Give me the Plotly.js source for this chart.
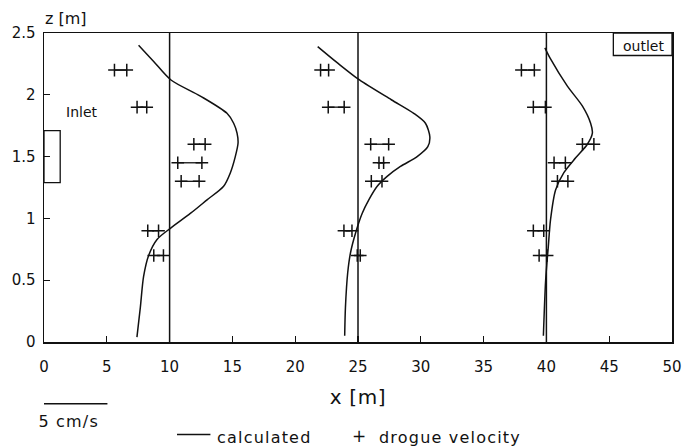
<!DOCTYPE html>
<html>
<head>
<meta charset="utf-8">
<script src="https://cdn.plot.ly/plotly-3.0.1.min.js"></script>
<style>
html,body{margin:0;padding:0;background:#fff;}
#chart{width:685px;height:448px;}
#chart .annotation-text.wide{letter-spacing:1.2px;}
#chart .xtitle{letter-spacing:0.6px;}
</style>
</head>
<body>
<div id="chart"></div>
<script>
// Stations (zero-velocity baselines), x [m]
const stations = [10, 25, 40];

// Calculated profiles (x position = baseline + velocity scaled), z [m]
const calc1X = [7.40, 7.67, 7.93, 8.33, 9.00, 10.06, 11.65, 12.98, 14.30, 14.84, 15.23, 15.45, 15.37, 15.10, 14.57, 12.45, 10.11, 8.73, 7.53];
const calc1Z = [0.04, 0.28, 0.53, 0.70, 0.83, 0.92, 1.04, 1.15, 1.26, 1.37, 1.50, 1.61, 1.69, 1.77, 1.85, 1.99, 2.12, 2.27, 2.40];
const calc2X = [23.94, 24.00, 24.18, 24.40, 24.80, 25.33, 25.86, 26.53, 27.32, 28.38, 29.71, 30.56, 30.72, 30.37, 29.44, 27.65, 25.12, 23.34, 21.79];
const calc2Z = [0.05, 0.28, 0.56, 0.72, 0.88, 1.04, 1.15, 1.26, 1.34, 1.42, 1.50, 1.58, 1.66, 1.77, 1.85, 1.96, 2.12, 2.26, 2.39];
const calc3X = [39.76, 39.94, 40.15, 40.33, 40.73, 41.39, 42.33, 43.26, 43.66, 43.52, 42.86, 41.67, 40.33, 39.88];
const calc3Z = [0.05, 0.50, 0.77, 0.99, 1.23, 1.37, 1.49, 1.60, 1.69, 1.77, 1.91, 2.07, 2.29, 2.38];

// Drogue velocities: depth levels and min/max ends at each station
const drogueZ = [2.2, 1.9, 1.6, 1.45, 1.3, 0.9, 0.7];
const drogue1Lo = [5.61, 7.41, 11.93, 10.65, 10.92, 8.26, 8.74];
const drogue1Hi = [6.59, 8.18, 12.83, 12.57, 12.35, 9.12, 9.51];
const drogue2Lo = [22.02, 22.63, 26.01, 26.67, 26.06, 23.88, 24.94];
const drogue2Hi = [22.66, 23.90, 27.44, 27.04, 26.91, 24.52, 25.18];
const drogue3Lo = [38.01, 38.96, 42.87, 40.61, 40.88, 38.96, 39.42];
const drogue3Hi = [39.04, 39.92, 43.78, 41.51, 41.71, 39.79, 40.06];

// Axis ticks
const xTicks = [0, 5, 10, 15, 20, 25, 30, 35, 40, 45, 50];
const xTickText = ['0', '5', '10', '15', '20', '25', '30', '35', '40', '45', '50'];
const yTicks = [0, 0.5, 1, 1.5, 2, 2.5];
const yTickText = ['0', '0.5', '1', '1.5', '2', '2.5'];

const FONT = 'DejaVu Sans, Arial, sans-serif';
const traces = [];

// baselines
stations.forEach(s => {
  traces.push({x: [s, s], y: [0, 2.5], mode: 'lines', line: {color: '#111', width: 1.5}, showlegend: false, hoverinfo: 'skip'});
});

[[calc1X, calc1Z], [calc2X, calc2Z], [calc3X, calc3Z]].forEach(([cx, cz]) => {
  traces.push({x: cx, y: cz, mode: 'lines', line: {color: '#111', width: 1.5, shape: 'spline', smoothing: 0.8}, showlegend: false});
});

[[drogue1Lo, drogue1Hi], [drogue2Lo, drogue2Hi], [drogue3Lo, drogue3Hi]].forEach(([lo, hi]) => {
  const xs = [], ys = [];
  drogueZ.forEach((z, i) => { xs.push(lo[i], hi[i], null); ys.push(z, z, null); });
  traces.push({x: xs, y: ys, mode: 'lines+markers', line: {color: '#111', width: 1.3},
    marker: {symbol: 'cross-thin', size: 9, line: {color: '#111', width: 1.5}}, showlegend: false});
});

const layout = {
  width: 685, height: 448,
  margin: {l: 44, r: 13, t: 33, b: 106},
  paper_bgcolor: '#fff', plot_bgcolor: '#fff',
  font: {family: FONT, color: '#111', size: 15},
  showlegend: false,
  xaxis: {
    range: [0, 50], tickvals: xTicks, ticktext: xTickText,
    ticks: 'inside', ticklen: 6, tickwidth: 1.2, tickcolor: '#111',
    showline: true, linecolor: '#111', linewidth: 1.5, mirror: true,
    showgrid: false, zeroline: false, ticklabelstandoff: 10,
    tickfont: {family: FONT, size: 15, color: '#111'},
    title: {text: 'x [m]', font: {family: FONT, size: 20, color: '#111'}, standoff: 15},
    automargin: false
  },
  yaxis: {
    range: [0, 2.5], tickvals: yTicks, ticktext: yTickText,
    ticks: 'inside', ticklen: 6, tickwidth: 1.2, tickcolor: '#111',
    showline: true, linecolor: '#111', linewidth: 1.5, mirror: true,
    showgrid: false, zeroline: false, ticklabelstandoff: 4,
    tickfont: {family: FONT, size: 15, color: '#111'},
    automargin: false
  },
  shapes: [
    // inlet box
    {type: 'rect', xref: 'x', yref: 'y', x0: 0, x1: 1.29, y0: 1.29, y1: 1.71, line: {color: '#111', width: 1.3}},
    // outlet box
    {type: 'rect', xref: 'x', yref: 'y', x0: 45.33, x1: 50, y0: 2.318, y1: 2.5, line: {color: '#111', width: 1.3}},
    // velocity scale bar (5 cm/s)
    {type: 'line', xref: 'x', yref: 'paper', x0: -0.25, x1: 5.05, y0: -0.2, y1: -0.2, line: {color: '#111', width: 1.5}},
    // legend line sample
    {type: 'line', xref: 'x', yref: 'paper', x0: 10.59, x1: 13.25, y0: -0.299, y1: -0.299, line: {color: '#111', width: 1.5}}
  ],
  annotations: [
    {text: 'z [m]', xref: 'paper', yref: 'paper', x: 0.035, y: 1.047, xanchor: 'center', yanchor: 'middle', showarrow: false, font: {family: FONT, size: 16, color: '#111'}},
    {text: 'Inlet', xref: 'x', yref: 'y', x: 3.04, y: 1.86, xanchor: 'center', yanchor: 'middle', showarrow: false, font: {family: FONT, size: 14, color: '#111'}},
    {text: 'outlet', xref: 'x', yref: 'y', x: 47.7, y: 2.395, xanchor: 'center', yanchor: 'middle', showarrow: false, font: {family: FONT, size: 14, color: '#111'}},
    {text: '5 cm/s', xref: 'paper', yref: 'paper', x: -0.006, y: -0.256, xanchor: 'left', yanchor: 'middle', showarrow: false, font: {family: FONT, size: 16, color: '#111'}},
    {text: 'calculated', xref: 'paper', yref: 'paper', x: 0.282, y: -0.308, xanchor: 'left', yanchor: 'middle', showarrow: false, font: {family: FONT, size: 16, color: '#111'}},
    {text: '+', xref: 'paper', yref: 'paper', x: 0.501, y: -0.303, xanchor: 'center', yanchor: 'middle', showarrow: false, font: {family: FONT, size: 17, color: '#111'}},
    {text: 'drogue velocity', xref: 'paper', yref: 'paper', x: 0.544, y: -0.308, xanchor: 'left', yanchor: 'middle', showarrow: false, font: {family: FONT, size: 16, color: '#111'}}
  ]
};

Plotly.newPlot('chart', traces, layout, {displayModeBar: false, staticPlot: true}).then(() => {
  // widen spacing of the plotter-style lettering for the bottom texts
  document.querySelectorAll('#chart .annotation-text').forEach(t => {
    const s = t.textContent;
    if (s === '5 cm/s' || s === 'calculated' || s === 'drogue velocity') t.classList.add('wide');
  });
});
</script>
</body>
</html>
